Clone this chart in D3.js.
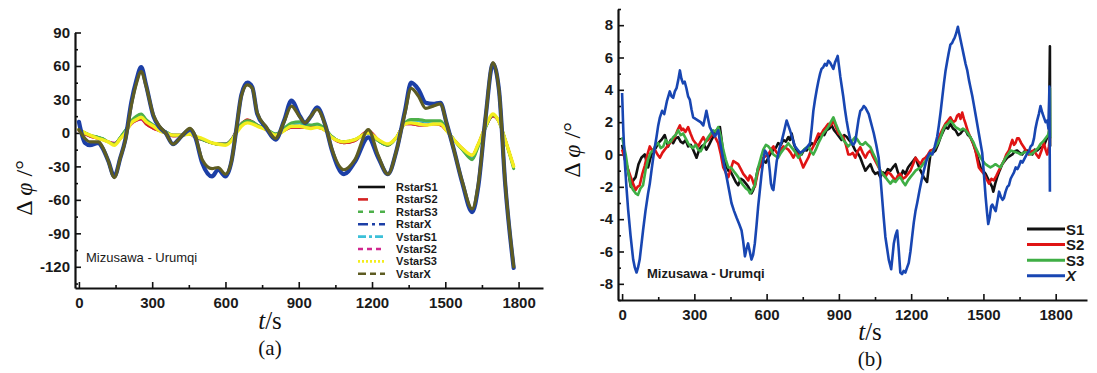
<!DOCTYPE html>
<html><head><meta charset="utf-8">
<script src="https://cdn.jsdelivr.net/npm/d3@7"></script>
<style>body{margin:0;background:#fff}svg{display:block}</style>
</head><body>
<svg id="c" width="1097" height="373"></svg>
<script>
// ---------- Panel (a) data ----------
const tA = [0, 25, 45, 80, 95, 120, 145, 170, 190, 215,
 235, 255, 275, 305, 330, 355, 385, 420, 455, 475,
 505, 545, 570, 600, 625, 645, 665, 690, 710, 730,
 765, 805, 840, 870, 905, 925, 950, 975, 1010, 1035,
 1085, 1130, 1185, 1225, 1265, 1300, 1335, 1360, 1390, 1420,
 1450, 1480, 1505, 1535, 1570, 1610, 1635, 1665, 1695, 1720,
 1745, 1780];
const rstarX = [10, -9, -11, -9, -13, -25, -39, -22, -6, 28,
 47, 59, 43, 15, 5, 0, -10, -3, 3, -3,
 -27, -39, -33, -39, -25, 4, 34, 45, 41, 17,
 5, -6, 11, 29, 15, 9, 15, 23, 6, -15,
 -37, -26, -4, -22, -37, -16, 20, 45, 39, 27,
 26, 27, 9, -15, -45, -71, -48, 14, 62, 38,
 -45, -121];
const vstarX = [3, -5, -8, -8, -12, -25, -40, -22, -7, 25,
 44, 55, 42, 16, 6, 0, -10, -3, 4, -2,
 -24, -32, -31, -37, -25, 4, 33, 43, 40, 18,
 6, -5, 10, 24, 14, 9, 15, 21, 6, -14,
 -33, -24, 3, -20, -37, -16, 18, 40, 33, 22,
 24, 26, 9, -15, -44, -68, -46, 14, 63, 38,
 -44, -120];
const rstarS1 = [3, 0, -2, -4, -5, -8, -10, -4, 2, 10,
 14, 16, 11, 6, 3, 1, -2, -2, -1, -3,
 -6, -9, -10, -10, -6, 1, 8, 11, 10, 7,
 4, -1, 3, 8, 9, 7, 6, 7, 3, -3,
 -8, -6, 0, -7, -11, -4, 9, 11, 11, 10,
 10, 10, 3, -6, -15, -23, -11, 5, 16, 10,
 -6, -31];
const rstarS2 = [2, -1, -3, -5, -6, -8, -10, -5, 1, 9,
 11, 13, 8, 4, 2, 0, -3, -2, -1, -4,
 -6, -9, -10, -10, -6, 2, 8, 12, 10, 7,
 3, -2, 2, 5, 5, 5, 5, 5, 2, -4,
 -9, -7, 2, -6, -11, -4, 8, 8, 7, 7,
 8, 7, 2, -6, -14, -20, -10, 6, 15, 10,
 -6, -30];
const rstarS3 = [3, 0, -2, -4, -5, -8, -10, -4, 2, 11,
 15, 17, 12, 7, 3, 1, -2, -2, -1, -3,
 -6, -9, -10, -10, -6, 1, 8, 11, 10, 7,
 4, -1, 4, 9, 10, 8, 7, 8, 3, -3,
 -8, -6, 0, -7, -11, -4, 9, 12, 12, 11,
 11, 11, 3, -6, -15, -24, -12, 5, 16, 10,
 -6, -32];
const vstarS1 = [3, 0, -2, -4, -5, -8, -10, -4, 2, 10,
 14, 16, 11, 7, 3, 1, -2, -2, -1, -3,
 -6, -9, -10, -10, -6, 1, 8, 10, 10, 7,
 4, -1, 3, 8, 9, 7, 6, 7, 3, -3,
 -8, -6, 0, -7, -11, -4, 9, 11, 11, 10,
 10, 10, 3, -6, -15, -23, -11, 5, 16, 10,
 -6, -31];
const vstarS2 = [2, -1, -3, -5, -6, -8, -9, -5, 1, 8,
 11, 12, 8, 4, 2, 0, -2, -2, -1, -4,
 -6, -9, -10, -10, -6, 2, 8, 11, 10, 7,
 3, -2, 2, 5, 5, 5, 5, 5, 2, -4,
 -9, -7, 2, -6, -11, -4, 8, 8, 7, 7,
 8, 7, 2, -6, -14, -20, -10, 6, 15, 10,
 -6, -30];
const vstarS3 = [3, 0, -2, -5, -6, -8, -11, -5, 0, 9,
 12, 14, 10, 6, 2, 0, -2, -2, -1, -3,
 -5, -9, -10, -11, -7, 0, 6, 9, 8, 6,
 3, -2, 2, 6, 6, 5, 4, 5, 2, -4,
 -8, -6, 0, -6, -10, -4, 8, 9, 8, 7,
 8, 8, 2, -6, -14, -20, -10, 6, 17, 10,
 -6, -30];
const namesA = ["RstarS1","RstarS2","RstarS3","RstarX","VstarS1","VstarS2","VstarS3","VstarX"];
const xTicksA = [0, 300, 600, 900, 1200, 1500, 1800];
const yTicksA = [-120, -90, -60, -30, 0, 30, 60, 90];

// ---------- Panel (b) data: [t, value] ----------
const bS1 = [[0,0.6],[12,-0.3],[25,-1],[36,-2],[46,-1.6],[56,-1.4],[68,-0.6],[80,-0.2],[94,0],[108,-0.8],[118,-0.2],[129,0.3],[140,0.4],[150,0.7],[163,0.9],[177,1.2],[191,0.5],[202,0.9],[212,0.7],[222,1.0],[233,1.07],[243,0.8],[253,0.7],[264,0.9],[274,0.5],[285,0.6],[295,0.3],[309,-0.2],[320,0.3],[330,0.5],[340,0.6],[350,0.3],[361,0.6],[371,0.9],[382,1.2],[392,1.5],[406,1.7],[413,0.9],[420,0],[430,-0.6],[441,-1],[452,-1.1],[462,-1.4],[472,-1.7],[482,-1.9],[493,-1.5],[503,-1.6],[514,-1.8],[524,-2],[531,-2.2],[537,-2.4],[544,-2.2],[551,-1.9],[558,-1.3],[565,-0.8],[576,-0.7],[586,-0.4],[597,-0.5],[607,-0.2],[618,0.1],[628,0.3],[638,0.4],[648,0.7],[659,0.6],[669,0.9],[680,0.8],[690,1.07],[697,0.9],[704,1.3],[714,0.6],[725,0.25],[735,0.1],[745,0],[756,0.3],[766,0.25],[777,0.5],[787,0.7],[797,0.6],[808,0.9],[818,1.1],[828,1.3],[839,1.2],[849,1.5],[860,1.6],[870,1.8],[880,1.5],[891,1.3],[901,1.1],[911,0.9],[922,1.2],[932,1.1],[942,0.9],[953,0.7],[960,0.5],[968,0.25],[978,0.1],[989,-0.2],[999,-0.6],[1010,-1],[1020,-0.8],[1031,-0.6],[1041,-1.0],[1051,-1.2],[1062,-1.1],[1072,-1.4],[1082,-1.1],[1093,-1.2],[1103,-0.9],[1114,-1],[1124,-0.8],[1135,-0.6],[1145,-1.1],[1155,-1.4],[1166,-1.0],[1176,-1.2],[1187,-0.8],[1197,-0.6],[1208,-0.4],[1218,-0.2],[1228,-0.6],[1239,-1],[1252,-1.4],[1266,-1.7],[1273,-0.8],[1280,0],[1290,0.1],[1301,0.25],[1311,0.6],[1322,1.07],[1332,1.4],[1342,1.7],[1353,1.6],[1363,1.9],[1374,1.6],[1384,1.5],[1395,1.2],[1405,1.3],[1415,1.5],[1426,1.5],[1436,1.2],[1446,1.07],[1457,0.7],[1467,0.25],[1478,-0.3],[1488,-0.8],[1498,-1.0],[1509,-1.2],[1519,-1.5],[1529,-1.8],[1536,-2.0],[1541,-2.3],[1549,-1.8],[1557,-1.4],[1567,-1.0],[1578,-0.6],[1588,-0.4],[1599,-0.2],[1609,-0.1],[1620,0],[1630,0.2],[1640,0.25],[1651,0.1],[1661,0],[1671,0.2],[1682,0.25],[1692,0.1],[1703,0],[1713,0.3],[1723,0.25],[1734,0.4],[1744,0.45],[1755,0.7],[1765,1.07],[1772,1.2],[1776,6.7],[1777,0.5]];
const bS2 = [[0,0.3],[10,-0.2],[22,-0.8],[36,-1.4],[46,-1.8],[56,-2.2],[64,-2.0],[73,-1.9],[84,-1.2],[94,-0.7],[105,0],[115,0.5],[126,0.2],[136,0.3],[147,0.0],[157,-0.2],[167,0.1],[177,0.3],[188,0.5],[198,0.7],[209,0.9],[219,1.07],[230,1.5],[240,1.8],[247,1.5],[253,1.6],[263,1.4],[274,1.7],[284,1.3],[295,0.9],[305,0.7],[316,0.5],[326,0.8],[337,1.07],[347,0.8],[357,0.9],[368,1.1],[378,1.3],[389,1.0],[399,0.7],[410,0],[420,-0.8],[430,-1.1],[441,-1.4],[451,-0.9],[462,-0.4],[472,-0.5],[482,-0.6],[493,-0.9],[503,-1.2],[514,-1.4],[524,-1.6],[530,-1.3],[537,-1.4],[544,-1.7],[551,-2],[558,-1.5],[565,-1],[576,-0.6],[586,-0.2],[597,-0.1],[607,0],[618,0.3],[628,0.5],[638,0.2],[648,0],[659,0.3],[669,0.5],[680,0.4],[690,0.3],[700,0.1],[711,-0.2],[721,0.1],[731,0],[742,-0.4],[752,-0.8],[762,-0.5],[773,-0.2],[783,0.2],[794,0.5],[804,0.9],[815,1.3],[825,1.2],[835,1.5],[846,1.7],[856,1.9],[866,1.8],[877,2.1],[887,1.7],[898,1.3],[908,1.2],[918,1.1],[929,0.6],[939,0],[948,0],[958,0.1],[968,-0.2],[978,0.2],[989,0.45],[999,0.1],[1010,-0.2],[1020,0.1],[1031,0.25],[1041,-0.1],[1051,-0.4],[1062,-0.7],[1072,-1],[1082,-1.2],[1093,-1.4],[1103,-1.1],[1114,-1.2],[1124,-1.4],[1135,-1.6],[1145,-1.3],[1155,-1.2],[1166,-1.5],[1176,-1.4],[1187,-1.2],[1197,-1],[1208,-0.6],[1218,-0.2],[1228,-0.4],[1239,-0.6],[1249,-0.3],[1259,-0.2],[1270,0],[1280,0.25],[1290,0.3],[1301,0.45],[1311,0.9],[1322,1.3],[1332,1.6],[1342,1.9],[1353,2.1],[1363,2.3],[1374,2.0],[1384,2.1],[1391,2.4],[1398,2.5],[1405,2.2],[1412,2.6],[1419,2.2],[1426,1.9],[1436,1.4],[1446,1.07],[1457,0.7],[1467,0.25],[1474,-0.3],[1481,-0.8],[1491,-1.0],[1502,-1.2],[1512,-1.5],[1523,-1.8],[1533,-1.5],[1543,-1.6],[1554,-1.3],[1564,-1],[1574,-0.7],[1585,-0.4],[1595,0],[1606,0.25],[1613,0.6],[1620,0.9],[1627,0.6],[1633,0.7],[1640,1.0],[1647,1],[1657,0.7],[1668,0.45],[1678,0.2],[1689,0],[1699,0.2],[1710,0.25],[1720,0],[1730,-0.2],[1740,0.2],[1751,0.7],[1758,0.3],[1765,0],[1772,0.5],[1776,1.07]];
const bS3 = [[0,1.07],[8,0.5],[15,0],[25,-1],[36,-1.9],[46,-2.2],[56,-2.4],[66,-2.5],[76,-2.1],[87,-1.9],[97,-1.0],[108,-0.3],[118,0.1],[129,0.25],[140,0.6],[150,0.7],[160,0.4],[171,0.5],[181,0.9],[191,0.7],[202,0.8],[212,1.07],[222,1.2],[233,1.5],[243,1.2],[253,1.3],[264,1.0],[274,0.7],[284,0.5],[295,0.4],[305,0.6],[316,0.3],[326,0.2],[337,0.5],[347,0.8],[357,1.07],[368,1.3],[378,1.5],[389,1.4],[399,1.7],[410,1.1],[420,0.3],[430,-0.3],[441,-0.8],[451,-0.8],[462,-1],[472,-1.2],[482,-1.4],[493,-1.7],[503,-1.9],[514,-2.1],[524,-2.2],[531,-2.4],[537,-2.3],[544,-2.1],[551,-1.9],[558,-1.3],[565,-0.8],[576,-0.2],[586,0.3],[597,0.6],[607,0.5],[618,0.3],[628,0],[638,-0.1],[648,-0.2],[659,0.1],[669,0.3],[680,0.5],[690,0.7],[700,0.5],[711,0.3],[721,0.1],[731,-0.2],[742,0],[752,0.25],[762,0.4],[773,0.5],[783,0.2],[794,0],[804,0.3],[815,0.7],[825,1.0],[835,1.3],[846,1.5],[856,1.7],[866,2.0],[877,2.3],[887,1.9],[898,1.5],[908,1.2],[918,0.9],[929,0.7],[939,0.5],[948,0.65],[958,0.9],[968,1.07],[978,0.9],[989,0.65],[999,0.6],[1010,0.76],[1020,0.6],[1031,0.45],[1041,0.1],[1051,-0.2],[1062,-0.6],[1072,-1],[1082,-1.2],[1093,-1.4],[1103,-1.6],[1114,-1.8],[1124,-1.6],[1135,-1.7],[1145,-1.5],[1155,-1.4],[1166,-1.7],[1176,-1.9],[1187,-1.6],[1197,-1.4],[1208,-1.2],[1218,-1],[1228,-0.9],[1239,-0.8],[1249,-0.6],[1259,-0.4],[1270,-0.2],[1280,0],[1290,0.2],[1301,0.45],[1311,0.7],[1322,1.07],[1332,1.5],[1342,1.8],[1353,1.9],[1363,2.1],[1374,1.9],[1384,1.7],[1395,1.6],[1405,1.5],[1415,1.6],[1426,1.5],[1436,1.3],[1446,1.07],[1457,0.8],[1467,0.45],[1478,0.1],[1488,-0.2],[1498,-0.4],[1509,-0.6],[1519,-0.7],[1529,-0.8],[1540,-0.7],[1550,-0.6],[1560,-0.7],[1571,-0.8],[1581,-0.5],[1592,-0.2],[1602,0],[1613,0.25],[1623,0.2],[1633,0.15],[1644,0.1],[1654,0],[1664,0.1],[1675,0.15],[1685,0.1],[1696,0],[1706,0.1],[1717,0.25],[1727,0.4],[1737,0.65],[1748,0.8],[1758,1],[1768,1.2],[1774,1.5],[1776,4.1],[1777,1.0]];
const bX = [[0,3.8],[5,1.5],[11,-0.4],[18,-2.0],[25,-3.4],[35,-5.0],[46,-6.5],[53,-7.0],[60,-7.3],[66,-7.0],[73,-6.5],[80,-5.6],[87,-4.7],[97,-3.5],[108,-2.4],[115,-1.8],[122,-1],[133,0.2],[143,1.1],[150,1.8],[157,2.3],[166,2.7],[175,2.5],[186,3.3],[198,3.9],[205,3.6],[212,3.5],[219,3.9],[226,4.1],[233,4.6],[240,5.2],[246,4.7],[253,4.4],[260,4.5],[267,4.1],[274,3.6],[281,3.4],[288,2.8],[295,2.3],[305,2.2],[316,2.1],[326,2.0],[337,1.8],[343,2.2],[350,2.7],[357,2.2],[364,1.7],[374,1.4],[385,1.1],[392,1.3],[399,1.5],[406,0.8],[413,0.25],[423,-0.6],[434,-1.4],[444,-2.2],[454,-3],[465,-3.5],[475,-3.9],[486,-4.3],[496,-4.7],[503,-5.4],[510,-6.3],[517,-5.8],[523,-5.5],[530,-6.0],[537,-6.5],[544,-6.2],[551,-5.5],[558,-4.4],[565,-3.2],[572,-2.2],[579,-1.2],[586,-0.4],[593,0.25],[600,0.1],[607,-0.2],[613,-1.0],[618,-1.8],[623,-2.1],[628,-2.2],[635,-1.3],[642,-0.4],[652,0.3],[662,0.8],[672,1.4],[683,2.1],[690,1.8],[697,1.5],[707,1.0],[718,0.5],[728,0.3],[739,0.1],[749,0.2],[760,0.3],[770,0.5],[780,0.7],[787,1.6],[794,2.7],[801,3.4],[808,4.0],[815,4.55],[822,5.0],[828,5.3],[835,5.4],[842,5.6],[849,5.5],[856,5.8],[863,5.7],[870,5.5],[877,5.3],[884,5.7],[890,5.9],[895,6.1],[901,5.4],[906,4.8],[911,4.3],[918,3.6],[925,2.8],[932,2.1],[939,1.5],[946,1.0],[953,0.7],[960,0.6],[968,0.8],[975,1.5],[982,2.2],[989,2.7],[996,2.8],[1003,3],[1010,2.9],[1017,2.7],[1024,2.5],[1031,2.1],[1038,1.7],[1045,1.3],[1055,0.6],[1065,-0.2],[1072,-1.3],[1079,-2.6],[1086,-3.9],[1093,-5.1],[1100,-5.8],[1107,-6.5],[1112,-6.8],[1117,-7.1],[1122,-6.4],[1128,-5.5],[1135,-5.0],[1142,-4.7],[1148,-5.8],[1155,-7.3],[1162,-7.4],[1169,-7.2],[1176,-7.3],[1183,-7.0],[1190,-6.7],[1197,-6.0],[1204,-5.1],[1211,-4.2],[1218,-3.5],[1225,-3],[1235,-2.2],[1246,-1.4],[1256,-0.8],[1267,-0.2],[1277,0.1],[1288,0],[1298,0.5],[1308,1.1],[1315,1.8],[1322,2.6],[1329,3.5],[1336,4.4],[1343,5.2],[1350,5.8],[1356,6.3],[1363,6.8],[1370,6.9],[1376,7.1],[1380,7.2],[1387,7.5],[1394,7.9],[1398,7.6],[1405,7.1],[1412,6.6],[1419,6.1],[1426,5.6],[1433,5.2],[1440,4.6],[1447,4.1],[1454,3.6],[1460,3.1],[1467,2.5],[1474,1.9],[1481,1.3],[1488,0.7],[1495,0.1],[1502,-1.2],[1509,-2.6],[1515,-3.6],[1520,-4.3],[1526,-3.9],[1532,-3.2],[1537,-3.1],[1544,-3.3],[1551,-3.5],[1558,-2.9],[1565,-2.3],[1572,-2.6],[1579,-2.8],[1585,-2.7],[1592,-2.3],[1599,-2.0],[1606,-1.9],[1613,-1.5],[1620,-1.3],[1627,-1.1],[1634,-0.8],[1641,-0.9],[1648,-0.7],[1655,-0.4],[1662,-0.5],[1669,-0.3],[1676,-0.1],[1683,0.1],[1689,0.2],[1696,0.5],[1703,0.6],[1710,1],[1716,1.6],[1723,2.1],[1730,2.5],[1737,3],[1744,2.6],[1751,2.3],[1758,2.0],[1765,2.1],[1770,1.6],[1774,4.2],[1776,-2.3]];
const namesB = ["S1","S2","S3","X"];
const xTicksB = [0, 300, 600, 900, 1200, 1500, 1800];
const yTicksB = [-8, -6, -4, -2, 0, 2, 4, 6, 8];

// ---------- drawing ----------
const svg = d3.select("#c");
const tickFont = "'Liberation Sans', Arial, sans-serif";
const serif = "'Liberation Serif', 'DejaVu Serif', serif";
const plain = d => String(d);

function drawAxes(x, y, xMaj, xMin, yMaj, yMin, xLabelDy) {
  const [x0] = x.range(), [yb] = y.range();
  const g = svg.append("g");
  g.append("g").attr("transform", `translate(0,${yb})`)
    .call(d3.axisBottom(x).tickValues(xMin).tickSize(-3).tickSizeOuter(0).tickFormat(""))
    .call(s => s.select(".domain").remove());
  g.append("g").attr("transform", `translate(${x0},0)`)
    .call(d3.axisLeft(y).tickValues(yMin).tickSize(-3).tickSizeOuter(0).tickFormat(""))
    .call(s => s.select(".domain").remove());
  g.append("g").attr("transform", `translate(0,${yb})`)
    .call(d3.axisBottom(x).tickValues(xMaj).tickSize(-6).tickSizeOuter(0).tickPadding(xLabelDy).tickFormat(plain));
  g.append("g").attr("transform", `translate(${x0},0)`)
    .call(d3.axisLeft(y).tickValues(yMaj).tickSize(-6).tickSizeOuter(0).tickPadding(5).tickFormat(plain));
  g.selectAll(".domain").attr("stroke", "#111").attr("stroke-width", 2.2);
  g.selectAll(".tick line").attr("stroke", "#111").attr("stroke-width", 1.6);
  g.selectAll(".tick text").attr("font-family", tickFont).attr("font-size", 15)
    .attr("font-weight", "bold").attr("fill", "#1a1a1a");
  return g;
}

function yTitle(cx, cy) {
  const t = svg.append("text").attr("transform", `translate(${cx},${cy}) rotate(-90)`)
    .attr("text-anchor", "middle").attr("font-family", serif).attr("font-size", 24).attr("fill", "#111");
  t.append("tspan").text("Δ ");
  t.append("tspan").attr("font-style", "italic").text("φ");
  t.append("tspan").text(" /°");
}
function xTitle(cx, by, sub, sy) {
  const t = svg.append("text").attr("x", cx).attr("y", by).attr("text-anchor", "middle")
    .attr("font-family", serif).attr("font-size", 25).attr("fill", "#111");
  t.append("tspan").attr("font-style", "italic").text("t");
  t.append("tspan").text("/s");
  svg.append("text").attr("x", cx).attr("y", sy).attr("text-anchor", "middle")
    .attr("font-family", serif).attr("font-size", 21).attr("fill", "#111").text(sub);
}

// ----- Panel (a) -----
const xa = d3.scaleLinear().domain([-16, 1900]).range([75, 543]);
const ya = d3.scaleLinear().domain([-139, 90]).range([288, 32.5]);
drawAxes(xa, ya, xTicksA, d3.range(150, 1900, 300), yTicksA, d3.range(-135, 90, 30), 9);

const seriesA = [
  {name: "RstarS1", vals: rstarS1, color: "#111111", w: 2.6},
  {name: "VstarS1", vals: vstarS1, color: "#3cc0d8", w: 2.6},
  {name: "VstarS2", vals: vstarS2, color: "#d0268e", w: 2.6},
  {name: "RstarS2", vals: rstarS2, color: "#d42222", w: 2.6},
  {name: "RstarS3", vals: rstarS3, color: "#4db04a", w: 3.0},
  {name: "VstarS3", vals: vstarS3, color: "#f3ee1e", w: 3.4},
  {name: "RstarX", vals: rstarX, color: "#1c3fa6", w: 4.2},
  {name: "VstarX", vals: vstarX, color: "#5e5c22", w: 3.2}
];
const lineA = d3.line().curve(d3.curveMonotoneX).x((d, i) => xa(tA[i])).y(d => ya(d));
svg.append("g").selectAll("path").data(seriesA).join("path")
  .attr("d", s => lineA(s.vals)).attr("fill", "none")
  .attr("stroke", d => d.color).attr("stroke-width", d => d.w)
  .attr("stroke-linejoin", "round").attr("stroke-linecap", "round");

const legA = [
  {c: "#111111", dash: null}, {c: "#d42222", dash: "10,30"}, {c: "#4db04a", dash: "5,6"},
  {c: "#1c3fa6", dash: "10,4,3,4"}, {c: "#3cc0d8", dash: "8,3,3,3"}, {c: "#d0268e", dash: "5,4"},
  {c: "#f3ee1e", dash: "2,2"}, {c: "#5e5c22", dash: "8,4,6,4"}
];
namesA.forEach((n, i) => {
  const yy = 187 + i * 12.4;
  svg.append("line").attr("x1", 358).attr("x2", 385).attr("y1", yy).attr("y2", yy)
    .attr("stroke", legA[i].c).attr("stroke-width", 2.6)
    .attr("stroke-dasharray", legA[i].dash);
  svg.append("text").attr("x", 396).attr("y", yy + 4).attr("font-family", tickFont)
    .attr("font-size", 11).attr("font-weight", "bold").attr("fill", "#1a1a1a").text(n);
});
svg.append("text").attr("x", 86).attr("y", 262).attr("font-family", tickFont)
  .attr("font-size", 13).attr("fill", "#1a1a1a").text("Mizusawa - Urumqi");
yTitle(32, 188);
xTitle(270, 329, "(a)", 355);

// ----- Panel (b) -----
const xb = d3.scaleLinear().domain([-17, 1930]).range([618, 1087]);
const yb = d3.scaleLinear().domain([-9, 9]).range([300, 9]);
drawAxes(xb, yb, xTicksB, d3.range(150, 1930, 300), yTicksB, d3.range(-9, 10, 2), 9);

const seriesB = [
  {name: "S1", data: bS1, color: "#111111"},
  {name: "S2", data: bS2, color: "#e01414"},
  {name: "S3", data: bS3, color: "#3fae45"},
  {name: "X", data: bX, color: "#1846b2"}
];
const lineB = d3.line().x(d => xb(d[0])).y(d => yb(d[1]));
svg.append("g").selectAll("path").data(seriesB).join("path")
  .attr("d", s => lineB(s.data)).attr("fill", "none")
  .attr("stroke", d => d.color).attr("stroke-width", 2.6).attr("stroke-linejoin", "round");

namesB.forEach((n, i) => {
  const yy = 229 + i * 15.6;
  svg.append("line").attr("x1", 1027).attr("x2", 1065).attr("y1", yy).attr("y2", yy)
    .attr("stroke", seriesB[i].color).attr("stroke-width", 3);
  svg.append("text").attr("x", 1066).attr("y", yy + 5.5).attr("font-family", tickFont)
    .attr("font-size", 15).attr("font-weight", "bold").attr("fill", "#1a1a1a")
    .attr("font-style", n === "X" ? "italic" : "normal").text(n);
});
svg.append("text").attr("x", 647).attr("y", 278).attr("font-family", tickFont)
  .attr("font-size", 13).attr("font-weight", "bold").attr("fill", "#1a1a1a").text("Mizusawa - Urumqi");
yTitle(580, 150);
xTitle(870, 340, "(b)", 366);
</script>
</body></html>
